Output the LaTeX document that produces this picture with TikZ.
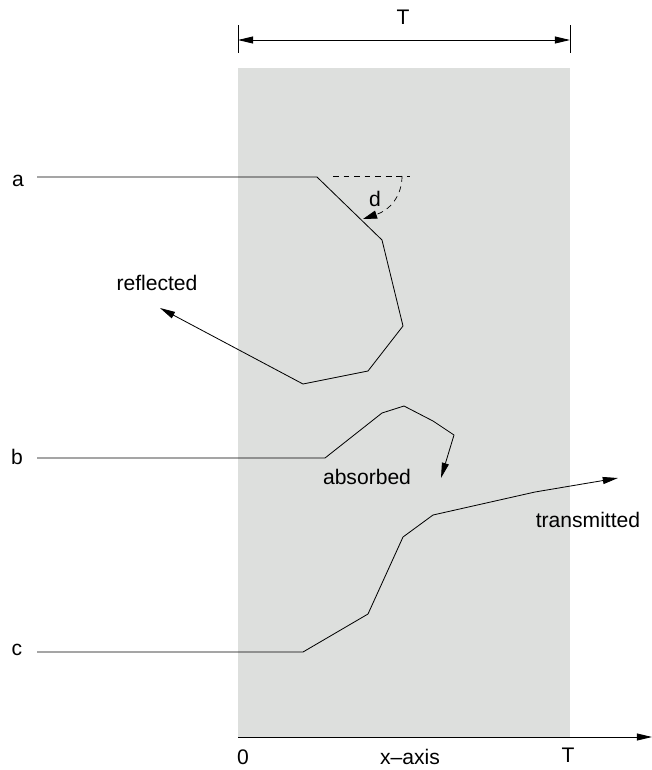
\documentclass[tikz,border=0pt]{standalone}
\usepackage{fontspec}
\setmainfont{Liberation Sans}
\usetikzlibrary{positioning, calc, arrows.meta}
\definecolor{slab}{RGB}{221,223,221}
\tikzset{
  ray/.style={line width=0.7pt},
  rayend/.style={line width=0.7pt, -{Triangle[length=13pt, width=6pt]}},
  guide/.style={line width=0.6pt, dash pattern=on 5pt off 4pt},
  lbl/.style={inner sep=0pt, font=\fontsize{18}{20}\selectfont}
}
\begin{document}
\begin{tikzpicture}[x=0.03cm, y=-0.03cm]
			\useasboundingbox (0,0) rectangle (652,770);
			\fill[slab] (238,68) rectangle (570,737);
			% width of the slab
			\coordinate (tl) at (238,40);
			\coordinate (tr) at (570,40);
			\draw[ray] (238,25) -- (238,53);
			\draw[ray] (570,25) -- (570,53);
			\draw[ray, {Triangle[length=13pt, width=6pt]}-{Triangle[length=13pt, width=6pt]}] (tl) -- (tr);
			\node (tw) [lbl] at (403,17) {T};
			% x axis
			\coordinate (o) at (238,737);
			\coordinate (xe) at (652,737);
			\draw[rayend] (o) -- (xe);
			\node (x0) [lbl] at (243,757) {0};
			\node (xl) [lbl] at (410,757) {x--axis};
			\node (xT) [lbl] at (568,755) {T};
			% ray a
			\node (a) [lbl] at (18,181) {a};
			\coordinate (a0) at (37,177);
			\coordinate (a1) at (160,308);
			\draw[rayend] (a0) -- (317,177) -- (382,240) -- (403,326) -- (368,371) -- (303,384) -- (a1);
			\node (refl) [lbl] at (157,283) {reflected};
			\draw[guide] (333,176) -- (410,176);
			\draw[guide, -{Triangle[length=12pt, width=7pt]}] (402,176) .. controls (402,196) and (390,210) .. (363,219);
			\node (d) [lbl] at (375,199) {d};
			% ray b
			\node (b) [lbl] at (17,457) {b};
			\coordinate (b0) at (37,458);
			\coordinate (b1) at (441,478);
			\draw[rayend] (b0) -- (325,458) -- (382,413) -- (404,406) -- (433,421) -- (454,435) -- (b1);
			\node (abs) [lbl] at (367,477) {absorbed};
			% ray c
			\node (c) [lbl] at (17,650) {c};
			\coordinate (c0) at (37,652);
			\coordinate (c1) at (618,478);
			\draw[rayend] (c0) -- (303,652) -- (368,614) -- (403,537) -- (433,515) -- (535,492) -- (c1);
			\node (trans) [lbl] at (588,520) {transmitted};
		\end{tikzpicture}
\end{document}
